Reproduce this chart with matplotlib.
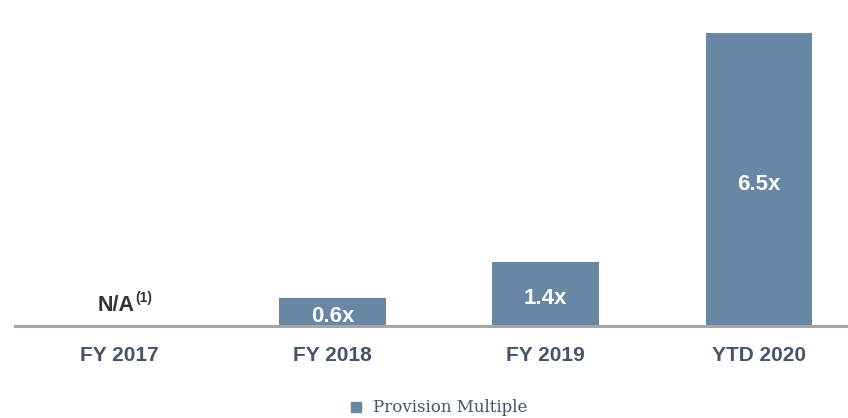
import matplotlib
matplotlib.use("Agg")
import matplotlib.pyplot as plt
from matplotlib.lines import Line2D

categories = ["FY 2017", "FY 2018", "FY 2019", "YTD 2020"]
multiples = [0.0, 0.6, 1.4, 6.5]
value_labels = [None, "0.6x", "1.4x", "6.5x"]
series_name = "Provision Multiple"

BAR_COLOR = "#6787A5"
CAT_COLOR = "#44546A"
AXIS_COLOR = "#A6A6A6"

plt.rcParams["font.family"] = ["Liberation Sans", "DejaVu Sans"]

fig = plt.figure(figsize=(8.48, 4.18), dpi=100)
ax = fig.add_axes([15 / 848, (418 - 325.5) / 418, 1 - 15 / 848, 325.5 / 418])

x = list(range(len(categories)))
ax.bar(x, multiples, width=0.5, color=BAR_COLOR, zorder=2)

ax.set_xlim(-0.49, 3.418)
ax.set_ylim(0, 7.233)
for side in ["top", "right", "left"]:
    ax.spines[side].set_visible(False)
ax.spines["bottom"].set_color(AXIS_COLOR)
ax.spines["bottom"].set_linewidth(2.2)
ax.spines["bottom"].set_zorder(3)
ax.set_yticks([])
ax.set_xticks(x)
ax.set_xticklabels(categories, fontsize=15, fontweight="bold", color=CAT_COLOR)
ax.tick_params(axis="x", length=0, pad=15)

for xi, val, lab in zip(x, multiples, value_labels):
    if lab is None:
        continue
    ax.annotate(lab, (xi, val / 2), xytext=(0, -3.5), textcoords="offset points",
                ha="center", va="center", fontsize=16, fontweight="bold",
                color="white", zorder=4)

# N/A marker for the first category
na = ax.text(-0.015, 0.45, "N/A", ha="center", va="center", fontsize=15.5,
             fontweight="bold", color="#333333")
ax.annotate("(1)", xy=(1, 1), xycoords=na, xytext=(0.5, 2.5),
            textcoords="offset points", ha="left", va="top", fontsize=10,
            fontweight="bold", color="#333333")

handle = Line2D([], [], marker="s", linestyle="none", markersize=6.5,
                markerfacecolor=BAR_COLOR, markeredgecolor=BAR_COLOR)
fig.legend([handle], [series_name], loc="center", bbox_to_anchor=(0.516, 0.024),
           frameon=False, handletextpad=0.5, handlelength=1.0,
           prop={"family": "DejaVu Serif", "size": 12}, labelcolor=CAT_COLOR)

fig.savefig("out.png", dpi=100)
